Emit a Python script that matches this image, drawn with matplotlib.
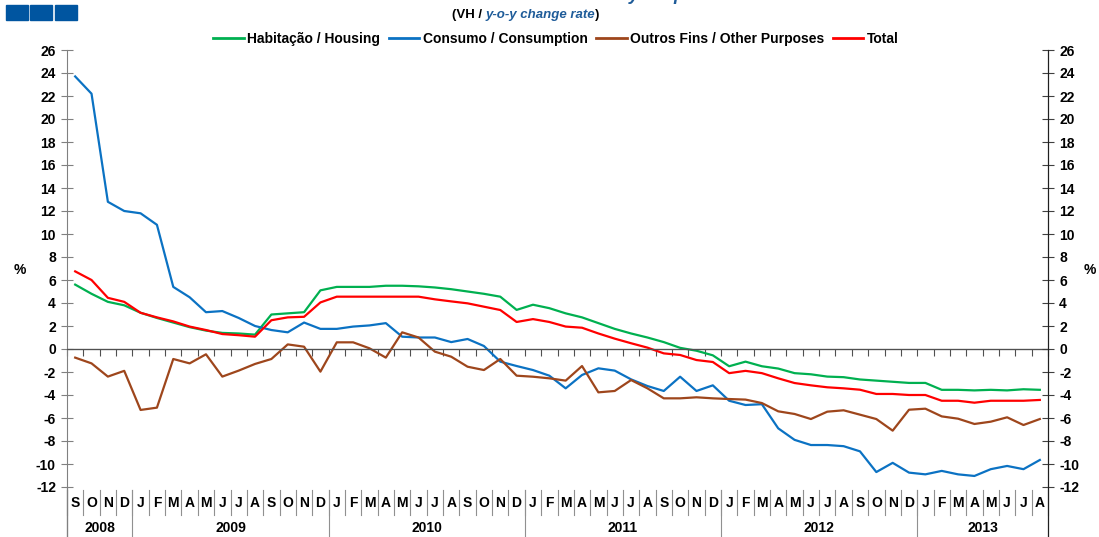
import numpy as np
import matplotlib.pyplot as plt
from matplotlib.patches import Rectangle
from matplotlib.lines import Line2D

plt.rcParams['font.family'] = ['Liberation Sans Narrow', 'Liberation Sans', 'DejaVu Sans']
plt.rcParams['font.weight'] = 'bold'
plt.rcParams['axes.unicode_minus'] = False

# monthly, Sep 2008 .. Aug 2013
months = list("SOND") + list("JFMAMJJASOND") * 4 + list("JFMAMJJA")
years = ["2008", "2009", "2010", "2011", "2012", "2013"]
year_len = [4, 12, 12, 12, 12, 8]

housing = [5.6, 4.8, 4.1, 3.8, 3.15, 2.7, 2.3, 1.9, 1.6, 1.4, 1.35, 1.25,
           3.0, 3.1, 3.2, 5.1, 5.4, 5.4, 5.4, 5.5,
           5.5, 5.45, 5.35, 5.2, 5.0, 4.8, 4.55, 3.4,
           3.85, 3.55, 3.1, 2.75, 2.25, 1.75, 1.35, 1.0, 0.6, 0.1, -0.15, -0.55,
           -1.5, -1.1, -1.5, -1.7, -2.1, -2.2, -2.4, -2.45, -2.65, -2.75, -2.85, -2.95,
           -2.95, -3.55, -3.55, -3.6, -3.55, -3.6, -3.5, -3.55]
consumption = [23.7, 22.2, 12.8, 12.0, 11.8, 10.8, 5.4, 4.5, 3.2, 3.3, 2.7, 2.0,
               1.65, 1.45, 2.3, 1.75, 1.75, 1.95, 2.05, 2.25,
               1.07, 1.0, 1.0, 0.6, 0.87, 0.26, -1.1, -1.48,
               -1.83, -2.32, -3.42, -2.26, -1.68, -1.88, -2.64, -3.22, -3.65, -2.41, -3.65, -3.16,
               -4.5, -4.87, -4.8, -6.9, -7.9, -8.35, -8.35, -8.45, -8.9, -10.7, -9.9, -10.75,
               -10.9, -10.6, -10.9, -11.04, -10.45, -10.17, -10.45, -9.65]
other = [-0.75, -1.25, -2.4, -1.9, -5.3, -5.1, -0.87, -1.25, -0.46, -2.4, -1.88, -1.3,
         -0.87, 0.4, 0.2, -1.97, 0.58, 0.58, 0.06, -0.75,
         1.45, 1.0, -0.23, -0.67, -1.54, -1.83, -0.87, -2.32,
         -2.41, -2.55, -2.75, -1.48, -3.77, -3.65, -2.7, -3.42, -4.29, -4.29, -4.2, -4.29,
         -4.35, -4.4, -4.7, -5.42, -5.65, -6.09, -5.45, -5.33, -5.71, -6.09, -7.1, -5.28,
         -5.19, -5.86, -6.06, -6.52, -6.32, -5.94, -6.61, -6.09]
total = [6.75, 6.0, 4.45, 4.1, 3.15, 2.75, 2.4, 1.95, 1.65, 1.3, 1.2, 1.07,
         2.5, 2.75, 2.8, 4.05, 4.55, 4.55, 4.55, 4.55,
         4.55, 4.55, 4.32, 4.14, 3.97, 3.68, 3.39, 2.35,
         2.6, 2.35, 1.95, 1.85, 1.35, 0.9, 0.5, 0.12, -0.38, -0.52, -0.96, -1.13,
         -2.1, -1.9, -2.1, -2.55, -2.96, -3.16, -3.33, -3.42, -3.54, -3.91, -3.91, -4.0,
         -4.0, -4.5, -4.5, -4.67, -4.5, -4.5, -4.5, -4.43]

series = [("Habitação / Housing", housing, "#00B050"),
          ("Consumo / Consumption", consumption, "#0B72C3"),
          ("Outros Fins / Other Purposes", other, "#9E461C"),
          ("Total", total, "#FF0000")]

W, H = 1099, 537
fig = plt.figure(figsize=(W / 100, H / 100), dpi=100)
ax = fig.add_axes([67 / W, 1 - 487 / H, 981 / W, 437 / H])

x = np.arange(len(months))
for name, vals, col in series:
    ax.plot(x, vals, color=col, lw=1.6, label=name)

ax.set_xlim(-0.5, len(months) - 0.5)
ax.set_ylim(-12, 26)
ax.set_yticks(np.arange(-12, 27, 2))
ax.tick_params(axis='y', direction='inout', length=8, width=0.8, color='#808080',
               labelsize=10, pad=4)

ax2 = ax.twinx()
ax2.set_ylim(-12, 26)
ax2.set_yticks(np.arange(-12, 27, 2))
ax2.tick_params(axis='y', direction='inout', length=8, width=0.8, color='#404040',
                labelsize=10, pad=4)

for a in (ax, ax2):
    a.spines['top'].set_visible(False)
    a.spines['bottom'].set_visible(False)
ax.spines['left'].set_color('#808080')
ax2.spines['left'].set_visible(False)
ax2.spines['right'].set_color('#202020')

# zero axis with category ticks
ax.axhline(0, color='#505050', lw=0.9)
ax.set_xticks(np.arange(-0.5, len(months), 1))
ax.tick_params(axis='x', direction='out', length=5, width=0.8, color='#505050',
               labelbottom=False)
ax.spines['bottom'].set_visible(True)
ax.spines['bottom'].set_position(('data', 0))
ax.spines['bottom'].set_color('#505050')

# category labels below the plot
tr = ax.get_xaxis_transform()
for i, m in enumerate(months):
    ax.text(i, -0.037, m, transform=tr, ha='center', va='center', fontsize=10,
            fontweight='bold', clip_on=False)
for b in np.arange(-0.5, len(months), 1):
    ax.plot([b, b], [-0.007, -0.064], transform=tr, color='#909090', lw=0.8,
            clip_on=False)
start = 0
for yr, n in zip(years, year_len):
    ax.text(start + (n - 1) / 2, -0.094, yr, transform=tr, ha='center',
            va='center', fontsize=10, fontweight='bold', clip_on=False)
    ax.plot([start - 0.5, start - 0.5], [-0.007, -0.12], transform=tr,
            color='#909090', lw=0.8, clip_on=False)
    start += n
ax.plot([start - 0.5, start - 0.5], [0, -0.12], transform=tr, color='#202020',
        lw=0.9, clip_on=False)
ax.plot([-0.5, -0.5], [0, -0.12], transform=tr, color='#808080', lw=0.9,
        clip_on=False)

fig.text(20 / W, 1 - 270 / H, "%", ha='center', va='center', fontsize=10,
         fontweight='bold')
fig.text(1090 / W, 1 - 270 / H, "%", ha='center', va='center', fontsize=10,
         fontweight='bold')

# legend
handles = [Line2D([], [], color=c, lw=2) for _, _, c in series]
fig.legend(handles, [s[0] for s in series], loc='center', ncol=4,
           bbox_to_anchor=(556 / W, 1 - 39 / H), frameon=False,
           handlelength=2.2, handletextpad=0.25, columnspacing=0.6,
           prop={'weight': 'bold', 'size': 10})

# titles (main title sits above the cropped top edge, as in the source)
fig.text(716 / W, 1.0, "Crédito a Particulares / Loans to Individuals by Purpose",
         ha='right', va='baseline', fontsize=13, fontweight='bold',
         color='#1F5C99', style='italic')
t1 = fig.text(452 / W, 1 - 15 / H, "(VH / ", ha='left', va='center',
              fontsize=9.5, fontweight='bold')
fig.canvas.draw()
bb = t1.get_window_extent()
t2 = fig.text(bb.x1 / W, 1 - 15 / H, "y-o-y change rate", ha='left', va='center',
              fontsize=9.5, fontweight='bold', style='italic', color='#1F5C99')
fig.canvas.draw()
bb2 = t2.get_window_extent()
fig.text(bb2.x1 / W, 1 - 15 / H, ")", ha='left', va='center', fontsize=9.5,
         fontweight='bold')

# logo squares
for x0 in (6, 30, 55):
    fig.patches.append(Rectangle((x0 / W, 1 - 20 / H), 22 / W, 15 / H,
                                 transform=fig.transFigure, color='#0055A0'))

fig.savefig("out.png", dpi=100)
